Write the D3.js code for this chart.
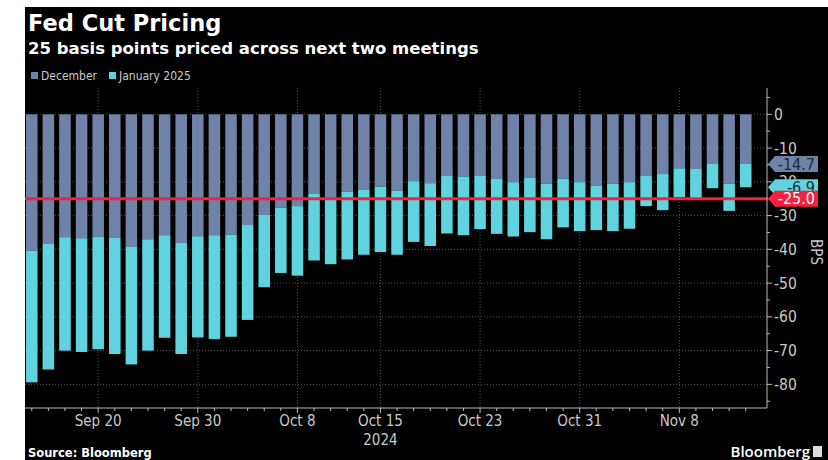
<!DOCTYPE html>
<html>
<head>
<meta charset="utf-8">
<script src="https://cdn.jsdelivr.net/npm/d3@7"></script>
<style>
  html, body { margin: 0; padding: 0; background: #fff; }
  svg { display: block; }
</style>
</head>
<body>
<div id="chart"></div>
<script>
// Trading days shown on the chart
const dates = [
  '2024-09-16','2024-09-17','2024-09-18','2024-09-19','2024-09-20',
  '2024-09-23','2024-09-24','2024-09-25','2024-09-26','2024-09-27',
  '2024-09-30','2024-10-01','2024-10-02','2024-10-03','2024-10-04',
  '2024-10-07','2024-10-08','2024-10-09','2024-10-10','2024-10-11',
  '2024-10-14','2024-10-15','2024-10-16','2024-10-17','2024-10-18',
  '2024-10-21','2024-10-22','2024-10-23','2024-10-24','2024-10-25',
  '2024-10-28','2024-10-29','2024-10-30','2024-10-31','2024-11-01',
  '2024-11-04','2024-11-05','2024-11-06','2024-11-07','2024-11-08',
  '2024-11-11','2024-11-12','2024-11-13','2024-11-14'
];

// December meeting pricing (bps)
const december = [
  -40.4,-38.4,-36.4,-36.7,-36.2,-36.6,-39.3,-37.0,-35.8,-38.1,
  -36.1,-35.8,-35.6,-32.8,-29.8,-27.7,-27.2,-23.6,-25.2,-22.9,
  -22.4,-21.4,-22.6,-19.8,-20.4,-18.1,-18.4,-18.1,-19.0,-20.1,
  -18.7,-20.6,-19.1,-20.1,-21.1,-20.6,-20.1,-18.1,-17.7,-16.0,
  -16.2,-14.7,-20.6,-14.7
];

// January 2025 meeting, additional pricing stacked below December (bps)
const january = [
  -39.0,-37.2,-33.6,-33.7,-33.4,-34.4,-34.8,-33.0,-30.4,-32.9,
  -30.0,-30.8,-30.3,-28.1,-21.4,-19.3,-20.6,-19.7,-19.2,-20.1,
  -19.2,-19.4,-19.0,-18.0,-18.6,-17.2,-17.4,-15.9,-16.4,-16.1,
  -16.2,-16.4,-14.4,-14.5,-13.2,-14.0,-13.8,-9.1,-10.7,-8.6,
  -8.6,-7.2,-8.0,-6.9
];

const labelDates = ['2024-09-20','2024-09-30','2024-10-08','2024-10-15','2024-10-23','2024-10-31','2024-11-08'];
const yTicks = [0, -10, -20, -30, -40, -50, -60, -70, -80];
const refLine = -25;

const W = 828, H = 460;
const plot = {left: 25, right: 767, top: 88, bottom: 408};

const colDec = '#6f83a9';
const colJan = '#5fd4df';
const colRed = '#f2213f';
const colText = '#c9c9c9';
const narrow = '"Liberation Sans Narrow", "DejaVu Sans Condensed", sans-serif';

const svg = d3.select('#chart')
  .append('svg')
  .attr('width', W)
  .attr('height', H);

// black panel
svg.append('rect')
  .attr('x', 25).attr('y', 7)
  .attr('width', W - 25).attr('height', H - 7)
  .attr('fill', '#000');

// Titles
svg.append('text')
  .attr('x', 28).attr('y', 31)
  .attr('fill', '#fff')
  .style('font-family', '"DejaVu Sans", sans-serif')
  .style('font-weight', 'bold')
  .style('font-size', '22.5px')
  .text('Fed Cut Pricing');

svg.append('text')
  .attr('x', 28).attr('y', 54)
  .attr('fill', '#fff')
  .style('font-family', '"DejaVu Sans", sans-serif')
  .style('font-weight', 'bold')
  .style('font-size', '16.5px')
  .text('25 basis points priced across next two meetings');

// Legend
const legend = [
  {name: 'December', color: colDec, x: 31},
  {name: 'January 2025', color: colJan, x: 109}
];
legend.forEach(d => {
  svg.append('rect')
    .attr('x', d.x).attr('y', 72)
    .attr('width', 7).attr('height', 7)
    .attr('fill', d.color);
  svg.append('text')
    .attr('x', d.x + 10).attr('y', 80)
    .attr('fill', colText)
    .style('font-family', narrow)
    .style('font-size', '12px')
    .text(d.name);
});

// Scales
const x = d3.scaleBand()
  .domain(dates)
  .range([25.5, 752])
  .paddingInner(0.305)
  .paddingOuter(0.03);

const y = d3.scaleLinear()
  .domain([7.8, -87])
  .range([plot.top, plot.bottom]);

const cx = d => x(d) + x.bandwidth() / 2;

// Gridlines
svg.append('g')
  .selectAll('line')
  .data(yTicks)
  .enter()
  .append('line')
  .attr('x1', plot.left).attr('x2', plot.right)
  .attr('y1', d => y(d)).attr('y2', d => y(d))
  .attr('stroke', '#555')
  .attr('stroke-width', 1)
  .attr('stroke-dasharray', '1,2');

svg.append('g')
  .selectAll('line')
  .data(labelDates)
  .enter()
  .append('line')
  .attr('x1', d => cx(d)).attr('x2', d => cx(d))
  .attr('y1', plot.top).attr('y2', plot.bottom)
  .attr('stroke', '#555')
  .attr('stroke-width', 1)
  .attr('stroke-dasharray', '1,2');

// Stacked bars
svg.append('g')
  .selectAll('rect')
  .data(dates)
  .enter()
  .append('rect')
  .attr('x', d => x(d))
  .attr('width', x.bandwidth())
  .attr('y', y(0))
  .attr('height', (d, i) => y(december[i]) - y(0))
  .attr('fill', colDec);

svg.append('g')
  .selectAll('rect')
  .data(dates)
  .enter()
  .append('rect')
  .attr('x', d => x(d))
  .attr('width', x.bandwidth())
  .attr('y', (d, i) => y(december[i]))
  .attr('height', (d, i) => y(december[i] + january[i]) - y(december[i]))
  .attr('fill', colJan);

// Reference line at -25
svg.append('line')
  .attr('x1', plot.left).attr('x2', plot.right)
  .attr('y1', y(refLine)).attr('y2', y(refLine))
  .attr('stroke', colRed)
  .attr('stroke-width', 3);

// X axis
const xAxis = svg.append('g')
  .attr('transform', `translate(0,${plot.bottom})`);

xAxis.append('line')
  .attr('x1', plot.left).attr('x2', plot.right)
  .attr('stroke', '#bbb');

xAxis.selectAll('line.tick')
  .data(dates)
  .enter()
  .append('line')
  .attr('class', 'tick')
  .attr('x1', d => cx(d)).attr('x2', d => cx(d))
  .attr('y1', 0)
  .attr('y2', d => labelDates.includes(d) ? 5 : 3)
  .attr('stroke', '#bbb');

const fmt = d3.timeFormat('%b %-d');
const parse = d3.timeParse('%Y-%m-%d');

xAxis.selectAll('text')
  .data(labelDates)
  .enter()
  .append('text')
  .attr('x', d => cx(d))
  .attr('y', 18)
  .attr('text-anchor', 'middle')
  .attr('fill', colText)
  .style('font-family', narrow)
  .style('font-size', '15px')
  .text(d => fmt(parse(d)));

svg.append('text')
  .attr('x', cx('2024-10-15'))
  .attr('y', 445)
  .attr('text-anchor', 'middle')
  .attr('fill', colText)
  .style('font-family', narrow)
  .style('font-size', '15px')
  .text('2024');

// Right Y axis
const yAxis = svg.append('g')
  .attr('transform', `translate(${plot.right},0)`);

yAxis.append('line')
  .attr('y1', plot.top).attr('y2', plot.bottom)
  .attr('stroke', '#bbb');

yAxis.selectAll('line.minor')
  .data(d3.range(5, -90, -5))
  .enter()
  .append('line')
  .attr('class', 'minor')
  .attr('x1', 0)
  .attr('x2', d => d % 10 === 0 ? 5 : 3)
  .attr('y1', d => y(d)).attr('y2', d => y(d))
  .attr('stroke', '#bbb');

yAxis.selectAll('text')
  .data(yTicks)
  .enter()
  .append('text')
  .attr('x', 7)
  .attr('y', d => y(d))
  .attr('dy', '0.35em')
  .attr('fill', colText)
  .style('font-family', narrow)
  .style('font-size', '15.5px')
  .text(d => d === 0 ? '0' : '-' + Math.abs(d));

svg.append('text')
  .attr('transform', `translate(811,252) rotate(90)`)
  .attr('text-anchor', 'middle')
  .attr('fill', colText)
  .style('font-family', narrow)
  .style('font-size', '15px')
  .text('BPS');

// Last-value tags
function tag(value, text, fill, textColor) {
  const yc = y(value);
  const x0 = plot.right + 1, x1 = 818;
  svg.append('path')
    .attr('d', `M${x0},${yc} L${x0 + 7},${yc - 8} L${x1},${yc - 8} L${x1},${yc + 8} L${x0 + 7},${yc + 8} Z`)
    .attr('fill', fill);
  svg.append('text')
    .attr('x', x1 - 3)
    .attr('y', yc)
    .attr('dy', '0.36em')
    .attr('text-anchor', 'end')
    .attr('fill', textColor)
    .style('font-family', narrow)
    .style('font-size', '16px')
    .text(text);
}

const last = dates.length - 1;
tag(december[last] + january[last], january[last].toFixed(1), colJan, '#1b2a3a');
tag(december[last], december[last].toFixed(1), colDec, '#1b2a3a');
tag(refLine, refLine.toFixed(1), colRed, '#fff');

// Footer
svg.append('text')
  .attr('x', 28).attr('y', 457)
  .attr('fill', '#fff')
  .style('font-family', '"DejaVu Sans", sans-serif')
  .style('font-weight', 'bold')
  .style('font-size', '11.5px')
  .text('Source: Bloomberg');

svg.append('text')
  .attr('x', 810).attr('y', 457)
  .attr('text-anchor', 'end')
  .attr('fill', '#fff')
  .style('font-family', '"Open Sans", sans-serif')
  .style('font-weight', '600')
  .style('font-size', '15px')
  .text('Bloomberg');

svg.append('rect')
  .attr('x', 813).attr('y', 446)
  .attr('width', 9).attr('height', 11)
  .attr('fill', '#ddd');
</script>
</body>
</html>
